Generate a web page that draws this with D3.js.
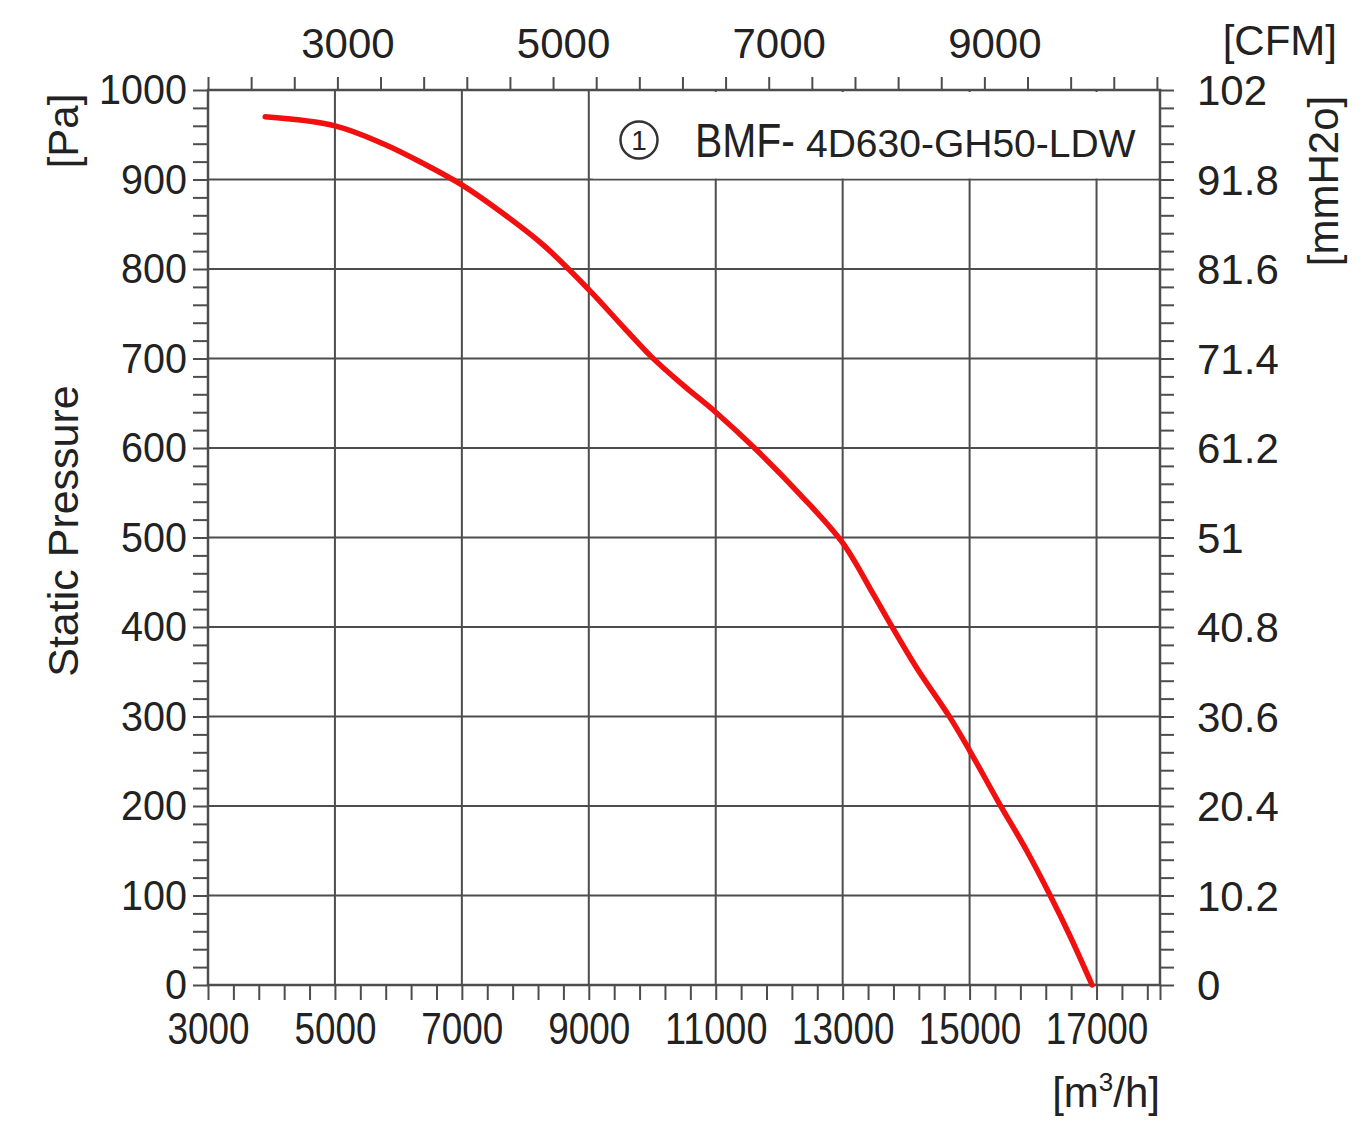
<!DOCTYPE html>
<html>
<head>
<meta charset="utf-8">
<script src="https://cdn.jsdelivr.net/npm/d3@7"></script>
<style>
  html, body { margin: 0; padding: 0; background: #fff; }
  svg { display: block; }
  text { font-family: 'Liberation Sans', Arial, Helvetica, sans-serif; fill: #222; }
</style>
</head>
<body>
<div id="chart"></div>
<script>
'use strict';

// fan curve: airflow [m3/h] vs static pressure [Pa]
const airflow = [3900, 5000, 5760, 6390, 7000, 7650, 8280, 9000, 9560, 10000, 10490, 11000,
    11640, 12330, 13000, 13480, 13740, 14170, 14690, 15000, 15450, 15900, 16270, 16580, 16930];
const pressure = [970, 960, 940, 918, 894, 862, 827, 777, 734, 701, 670, 640,
    598, 548, 494, 437, 405, 354, 299, 262, 205, 150, 100, 55, 0];

// tick labels
const flowLabels = ['3000', '5000', '7000', '9000', '11000', '13000', '15000', '17000'];
const paLabels = ['0', '100', '200', '300', '400', '500', '600', '700', '800', '900', '1000'];
const cfmLabels = ['3000', '5000', '7000', '9000'];
const mmLabels = ['0', '10.2', '20.4', '30.6', '40.8', '51', '61.2', '71.4', '81.6', '91.8', '102'];
const modelLabel = ['BMF-', '4D630-GH50-LDW'];

const fullWidth = 1367;
const fullHeight = 1127;
const margin = {top: 90, right: 207, bottom: 142, left: 208};
const width = fullWidth - margin.left - margin.right;
const height = fullHeight - margin.top - margin.bottom;
const lineColor = '#4d4d4d';

let svg = d3.select('#chart')
    .append('svg')
    .attr('width', fullWidth)
    .attr('height', fullHeight);

svg.append('rect')
    .attr('width', fullWidth)
    .attr('height', fullHeight)
    .attr('fill', '#fff');

let g = svg.append('g')
    .attr('transform', 'translate(' + margin.left + ',' + margin.top + ')');

// scales
let x = d3.scaleLinear().domain([3000, 18000]).range([0, width]);
let y = d3.scaleLinear().domain([0, 1000]).range([height, 0]);
// top axis in CFM (1 CFM = 1.699 m3/h), drawn from 1800 CFM at the left edge
let cfm = d3.scaleLinear().domain([1800, 1800 + 15000 / 1.699]).range([0, width]);
let mm = d3.scaleLinear().domain([0, 102]).range([height, 0]);

// grid
g.append('g').selectAll('line')
    .data(paLabels.slice(1, -1).map(Number))
    .enter().append('line')
    .attr('x1', 0).attr('x2', width)
    .attr('y1', d => y(d)).attr('y2', d => y(d))
    .attr('stroke', lineColor).attr('stroke-width', 2);

g.append('g').selectAll('line')
    .data(flowLabels.slice(1).map(Number))
    .enter().append('line')
    .attr('x1', d => x(d)).attr('x2', d => x(d))
    .attr('y1', 0).attr('y2', height)
    .attr('stroke', lineColor).attr('stroke-width', 2);

// white legend box hides the grid in the top right corner
let boxLeft = x(9000) + 4;
g.append('rect')
    .attr('x', boxLeft)
    .attr('y', 2)
    .attr('width', width - boxLeft - 2)
    .attr('height', y(900) - 3)
    .attr('fill', '#fff');

// axes
function styleAxis(sel) {
    sel.select('.domain').remove();
    sel.selectAll('.tick line').attr('stroke', lineColor).attr('stroke-width', 2);
    sel.selectAll('.tick text').attr('fill', '#222');
}

let bottomAxis = d3.axisBottom(x)
    .tickValues(d3.range(3000, 18001, 400).concat([18000]))
    .tickSize(15)
    .tickPadding(13)
    .tickFormat(d => flowLabels.includes(String(d)) ? String(d) : '');

g.append('g')
    .attr('transform', 'translate(0,' + height + ')')
    .call(bottomAxis)
    .call(styleAxis)
    .call(a => a.selectAll('.tick text')
        .attr('font-size', 44)
        .attr('font-family', null)
        .filter(function() { return this.textContent !== ''; })
        .attr('textLength', function() { return this.textContent.length * 20.5; })
        .attr('lengthAdjust', 'spacingAndGlyphs'));

let leftAxis = d3.axisLeft(y)
    .tickValues(d3.range(0, 1001, 20))
    .tickSize(15)
    .tickPadding(6)
    .tickFormat(d => d % 100 === 0 ? paLabels[d / 100] : '');

g.append('g')
    .call(leftAxis)
    .call(styleAxis)
    .call(a => a.selectAll('.tick text')
        .attr('font-size', 42)
        .attr('font-family', null)
        .attr('dy', '0.33em')
        .filter(function() { return this.textContent !== ''; })
        .attr('textLength', function() { return this.textContent.length * 22; })
        .attr('lengthAdjust', 'spacingAndGlyphs'));

let topAxis = d3.axisTop(cfm)
    .tickValues(d3.range(1800, 10601, 400))
    .tickSize(13)
    .tickPadding(19)
    .tickFormat(d => cfmLabels.includes(String(d)) ? String(d) : '');

g.append('g')
    .call(topAxis)
    .call(styleAxis)
    .call(a => a.selectAll('.tick text')
        .attr('font-size', 42)
        .attr('font-family', null)
        .attr('dx', 10));

let rightAxis = d3.axisRight(mm)
    .tickValues(d3.range(51).map(i => +(i * 2.04).toFixed(2)))
    .tickSize(14)
    .tickPadding(23)
    .tickFormat((d, i) => i % 5 === 0 ? mmLabels[i / 5] : '');

g.append('g')
    .attr('transform', 'translate(' + width + ',0)')
    .call(rightAxis)
    .call(styleAxis)
    .call(a => a.selectAll('.tick text')
        .attr('font-size', 42)
        .attr('font-family', null)
        .attr('dy', '0.35em'));

// frame
g.append('rect')
    .attr('width', width)
    .attr('height', height)
    .attr('fill', 'none')
    .attr('stroke', lineColor)
    .attr('stroke-width', 2.5);

// curve
let curveData = airflow.map((d, i) => [d, pressure[i]]);
let line = d3.line()
    .x(d => x(d[0]))
    .y(d => y(d[1]))
    .curve(d3.curveCatmullRom.alpha(0.5));

g.append('path')
    .datum(curveData)
    .attr('d', line)
    .attr('fill', 'none')
    .attr('stroke', '#f01010')
    .attr('stroke-width', 5.5)
    .attr('stroke-linecap', 'round');

// legend
let legend = svg.append('g');
legend.append('circle')
    .attr('cx', 639).attr('cy', 140).attr('r', 18.5)
    .attr('fill', 'none')
    .attr('stroke', '#333')
    .attr('stroke-width', 2.5);
legend.append('text')
    .attr('x', 639).attr('y', 150)
    .attr('text-anchor', 'middle')
    .attr('font-size', 28)
    .text('1');
legend.append('text')
    .attr('x', 695).attr('y', 157)
    .attr('font-size', 48)
    .attr('textLength', 100)
    .attr('lengthAdjust', 'spacingAndGlyphs')
    .text(modelLabel[0]);
legend.append('text')
    .attr('x', 806).attr('y', 156.5)
    .attr('font-size', 39)
    .text(modelLabel[1]);

// axis titles
svg.append('text')
    .attr('transform', 'translate(78,531) rotate(-90)')
    .attr('text-anchor', 'middle')
    .attr('font-size', 43)
    .text('Static Pressure');

svg.append('text')
    .attr('transform', 'translate(78,131) rotate(-90)')
    .attr('text-anchor', 'middle')
    .attr('font-size', 42)
    .text('[Pa]');

svg.append('text')
    .attr('transform', 'translate(1338,181) rotate(-90)')
    .attr('text-anchor', 'middle')
    .attr('font-size', 42)
    .text('[mmH2o]');

svg.append('text')
    .attr('x', 1337).attr('y', 55)
    .attr('text-anchor', 'end')
    .attr('font-size', 42)
    .text('[CFM]');

let unit = svg.append('text')
    .attr('x', 1160).attr('y', 1107)
    .attr('text-anchor', 'end')
    .attr('font-size', 42);
unit.append('tspan').text('[m');
unit.append('tspan').attr('font-size', 26).attr('dy', -16).text('3');
unit.append('tspan').attr('dy', 16).text('/h]');
</script>
</body>
</html>
